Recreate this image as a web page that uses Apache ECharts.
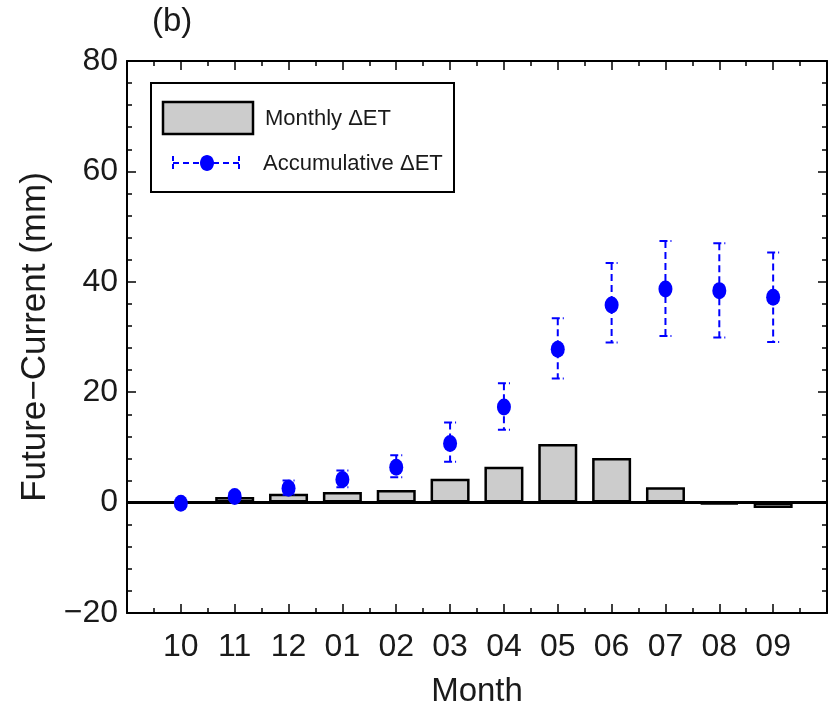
<!DOCTYPE html>
<html>
<head>
<meta charset="utf-8">
<script src="https://cdn.jsdelivr.net/npm/echarts@6/dist/echarts.min.js"></script>
<style>
  html, body { margin: 0; padding: 0; background: #fff; }
  #main { width: 837px; height: 709px; }
</style>
</head>
<body>
<div id="main"></div>
<script>
// month labels, Oct -> Sep
var months = ['10', '11', '12', '01', '02', '03', '04', '05', '06', '07', '08', '09'];
// monthly change of ET (mm)
var monthlyET = [0.0, 1.0, 1.6, 1.9, 2.3, 4.3, 6.5, 10.6, 8.1, 2.8, -0.3, -1.0];
// accumulative change of ET (mm) and its range
var accumET = [-0.1, 1.1, 2.6, 4.2, 6.4, 10.7, 17.3, 27.8, 35.8, 38.7, 38.4, 37.2];
var accumLow = [-0.4, 0.4, 1.4, 2.8, 4.6, 7.4, 13.2, 22.5, 29.0, 30.2, 29.9, 29.1];
var accumHigh = [0.2, 1.8, 4.0, 5.8, 8.6, 14.5, 21.6, 33.4, 43.4, 47.4, 47.0, 45.3];
var yTicks = [-20, 0, 20, 40, 60, 80];

var FONT = "'Liberation Sans Narrow', 'Liberation Sans', sans-serif";
var BLUE = '#0000ff';
var TXT = '#1a1a1a';

var barData = [];
var dotData = [];
var errData = [];
for (var i = 0; i < months.length; i++) {
    barData.push([i + 1, monthlyET[i]]);
    dotData.push([i + 1, accumET[i]]);
    errData.push([i + 1, accumLow[i], accumHigh[i]]);
}

var chart = echarts.init(document.getElementById('main'));

//坐标轴公共样式
function xAxisBase(pos, showLabel) {
    return {
        type: 'value',
        position: pos,
        min: 0,
        max: 13,
        interval: 1,
        axisLine: { show: true, onZero: false, lineStyle: { color: '#000', width: 2 } },
        axisTick: { show: true, inside: true, length: 9, lineStyle: { color: '#000', width: 1.5 } },
        minorTick: { show: true, splitNumber: 2, length: 5, lineStyle: { color: '#000', width: 1.5 } },
        splitLine: { show: false },
        axisLabel: {
            show: showLabel,
            margin: 18,
            fontFamily: FONT,
            fontSize: 32,
            color: TXT,
            formatter: function (v) {
                return (v >= 1 && v <= 12) ? months[v - 1] : '';
            }
        }
    };
}

function yAxisBase(pos, showLabel) {
    return {
        type: 'value',
        position: pos,
        min: yTicks[0],
        max: yTicks[yTicks.length - 1],
        interval: 20,
        axisLine: { show: true, onZero: false, lineStyle: { color: '#000', width: 2 } },
        axisTick: { show: true, inside: true, length: 9, lineStyle: { color: '#000', width: 1.5 } },
        minorTick: { show: true, splitNumber: 5, length: 5, lineStyle: { color: '#000', width: 1.5 } },
        splitLine: { show: false },
        axisLabel: {
            show: showLabel,
            margin: 9,
            fontFamily: FONT,
            fontSize: 32,
            color: TXT,
            formatter: function (v) {
                return v < 0 ? '\u2212' + (-v) : '' + v;
            }
        }
    };
}

var xBottom = xAxisBase('bottom', true);
xBottom.name = 'Month';
xBottom.nameLocation = 'middle';
xBottom.nameGap = 62;
xBottom.nameTextStyle = { fontFamily: FONT, fontSize: 33, color: TXT };

var yLeft = yAxisBase('left', true);
yLeft.name = 'Future\u2212Current (mm)';
yLeft.nameLocation = 'middle';
yLeft.nameGap = 72;
yLeft.nameTextStyle = { fontFamily: FONT, fontSize: 35, color: TXT };

var option = {
    animation: false,
    backgroundColor: '#fff',
    grid: { left: 127, right: 10, top: 61, bottom: 96, containLabel: false, outerBoundsMode: 'none' },
    xAxis: [xBottom, xAxisBase('top', false)],
    yAxis: [yLeft, yAxisBase('right', false)],
    series: [
        {
            name: 'Monthly ΔET',
            type: 'bar',
            xAxisIndex: 0,
            yAxisIndex: 0,
            barWidth: 39,
            itemStyle: { color: '#cccccc', borderColor: '#000', borderWidth: 2.5 },
            data: barData,
            z: 2,
            markLine: {
                silent: true,
                symbol: 'none',
                label: { show: false },
                lineStyle: { color: '#000', width: 3, type: 'solid' },
                data: [{ yAxis: 0 }]
            }
        },
        {
            name: 'error',
            type: 'custom',
            xAxisIndex: 0,
            yAxisIndex: 0,
            z: 4,
            renderItem: function (params, api) {
                var x = api.value(0);
                var lo = api.coord([x, api.value(1)]);
                var hi = api.coord([x, api.value(2)]);
                var st = { stroke: BLUE, lineWidth: 2, lineDash: [7, 4], fill: null };
                return {
                    type: 'group',
                    children: [
                        { type: 'line', shape: { x1: hi[0], y1: hi[1], x2: lo[0], y2: lo[1] }, style: st },
                        { type: 'line', shape: { x1: hi[0] - 6, y1: hi[1], x2: hi[0] + 6, y2: hi[1] }, style: { stroke: BLUE, lineWidth: 2, lineDash: [8, 3] } },
                        { type: 'line', shape: { x1: lo[0] - 6, y1: lo[1], x2: lo[0] + 6, y2: lo[1] }, style: { stroke: BLUE, lineWidth: 2, lineDash: [8, 3] } }
                    ]
                };
            },
            encode: { x: 0, y: [1, 2] },
            data: errData
        },
        {
            name: 'Accumulative ΔET',
            type: 'scatter',
            xAxisIndex: 0,
            yAxisIndex: 0,
            symbol: 'circle',
            symbolSize: [14, 17],
            itemStyle: { color: BLUE, opacity: 1 },
            z: 5,
            data: dotData
        }
    ],
    graphic: [
        { type: 'text', left: 152, top: 5, style: { text: '(b)', fontFamily: FONT, fontSize: 33, fill: TXT } },
        //图例
        { type: 'rect', shape: { x: 151, y: 83, width: 303, height: 109 }, style: { fill: '#fff', stroke: '#000', lineWidth: 2 }, z: 10 },
        { type: 'rect', shape: { x: 163, y: 102, width: 90, height: 32 }, style: { fill: '#cccccc', stroke: '#000', lineWidth: 2.5 }, z: 11 },
        { type: 'text', x: 265, y: 119, style: { text: 'Monthly ΔET', fontFamily: FONT, fontSize: 22, fill: TXT, verticalAlign: 'middle' }, z: 11 },
        { type: 'line', shape: { x1: 173, y1: 163, x2: 239, y2: 163 }, style: { stroke: BLUE, lineWidth: 2, lineDash: [6, 4] }, z: 11 },
        { type: 'line', shape: { x1: 173, y1: 156, x2: 173, y2: 170 }, style: { stroke: BLUE, lineWidth: 2, lineDash: [5, 3] }, z: 11 },
        { type: 'line', shape: { x1: 239, y1: 156, x2: 239, y2: 170 }, style: { stroke: BLUE, lineWidth: 2, lineDash: [5, 3] }, z: 11 },
        { type: 'ellipse', shape: { cx: 207, cy: 163, rx: 7, ry: 8 }, style: { fill: BLUE }, z: 12 },
        { type: 'text', x: 263, y: 164, style: { text: 'Accumulative ΔET', fontFamily: FONT, fontSize: 22, fill: TXT, verticalAlign: 'middle' }, z: 11 }
    ]
};

chart.setOption(option);
</script>
</body>
</html>
